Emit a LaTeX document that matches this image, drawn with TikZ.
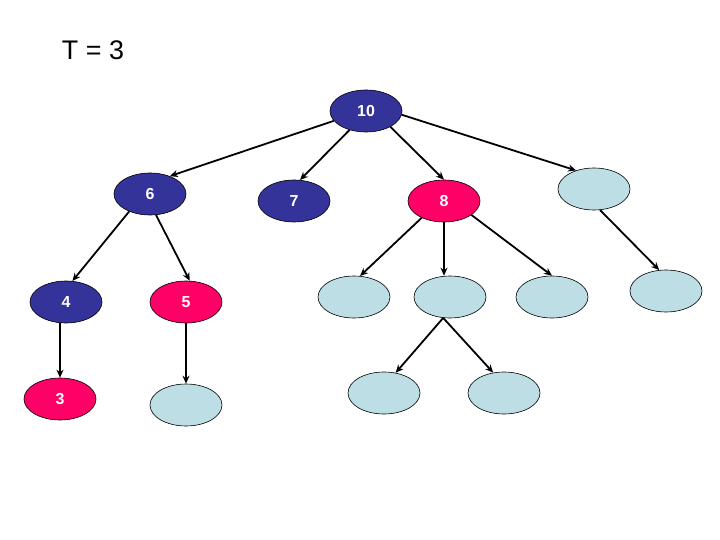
\documentclass[tikz,border=0pt]{standalone}
\usepackage{fontspec}
\setmainfont{Liberation Sans}
\usetikzlibrary{shapes.geometric, arrows.meta}
\definecolor{heapblue}{RGB}{51, 51, 153}
\definecolor{heappink}{RGB}{255, 0, 102}
\definecolor{emptyslot}{RGB}{188, 222, 228}

\tikzset{
  key/.style={ellipse, draw=black, line width=0.6bp, minimum width=72bp,
    minimum height=42bp, inner sep=0pt, text=white,
    font=\fontsize{16}{18}\selectfont\bfseries},
  oldkey/.style={key, fill=heapblue},
  newkey/.style={key, fill=heappink},
  slot/.style={key, fill=emptyslot},
  link/.style={line width=1.8bp, -{Stealth[length=8bp, width=7bp]}}
}

\begin{document}
\begin{tikzpicture}[x=1bp, y=-1bp]
        \useasboundingbox (0,0) rectangle (720,540);
        % Title
        \node[font=\fontsize{27}{30}\selectfont] (title) at (93,50) {T = 3};
        % Root
        \node[oldkey] (n10) at (366,111) {10};
        % Second row
        \node[oldkey] (n6) at (150,194) {6};
        \node[oldkey] (n7) at (294,201) {7};
        \node[newkey] (n8) at (444,201) {8};
        \node[slot] (s1) at (594,189) {};
        % Third row
        \node[oldkey] (n4) at (66,302) {4};
        \node[newkey] (n5) at (186,302) {5};
        \node[slot] (s2) at (354,297) {};
        \node[slot] (s3) at (450,297) {};
        \node[slot] (s4) at (552,297) {};
        \node[slot] (s5) at (666,291) {};
        % Fourth row
        \node[newkey] (n3) at (60,399) {3};
        \node[slot] (s6) at (186,405) {};
        \node[slot] (s7) at (384,393) {};
        \node[slot] (s8) at (504,393) {};
        % Links from the root
        \draw[link] (n10.197) -- (n6.42);
        \draw[link] (n10.229) -- (n7.74);
        \draw[link] (n10.327) -- (n8.north);
        \draw[link] (n10.354) -- (s1.134);
        % Links below 6 and 8
        \draw[link] (n6.220) -- (n4.73);
        \draw[link] (n6.286) -- (n5.80);
        \draw[link] (n3 |- n4.south) -- (n3.north);
        \draw[link] (n5.south) -- (s6.north);
        \draw[link] (n8.217) -- (s2.74);
        \draw[link] (n8.south) -- (n8.south |- s3.north);
        \draw[link] (n8.333) -- (s4.north);
        \draw[link] (s1.286) -- (s5.108);
        \draw[link] (s3.252) -- (s7.60);
        \draw[link] (s3.252) -- (s8.118);
      \end{tikzpicture}
\end{document}
